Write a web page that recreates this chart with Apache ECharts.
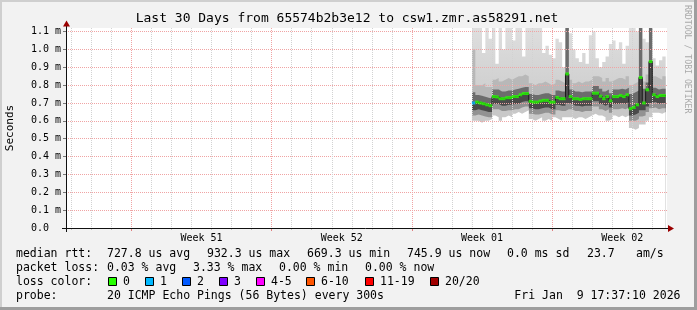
<!DOCTYPE html>
<html><head><meta charset="utf-8">
<script src="https://cdn.jsdelivr.net/npm/echarts@6/dist/echarts.min.js"></script>
<style>
html,body{margin:0;padding:0;background:#f2f2f2;}
#wrap{position:relative;width:697px;height:310px;overflow:hidden;background:#f2f2f2;}
#plotbg{position:absolute;left:66px;top:28px;width:601px;height:200px;background:#ffffff;}
#chart{position:absolute;left:0;top:0;width:697px;height:310px;}
.b{position:absolute;pointer-events:none;}
</style></head><body>
<div id="wrap"><div id="plotbg"></div><div id="chart"></div>
<div class="b" style="left:0;top:0;width:697px;height:2px;background:#cfcfcf"></div>
<div class="b" style="left:0;top:0;width:2px;height:310px;background:#cfcfcf"></div>
<div class="b" style="left:0;bottom:0;width:697px;height:3px;background:#9e9e9e"></div>
<div class="b" style="right:0;top:0;width:3px;height:310px;background:#9e9e9e"></div>
</div>
<script>
// ---------------- data ----------------
const titleText = 'Last 30 Days from 65574b2b3e12 to csw1.zmr.as58291.net';
const yAxisName = 'Seconds';
const creditText = 'RRDTOOL / TOBI OETIKER';
// x axis positions in days since Dec 10 2025 00:00
const xStartDay = 0.73414;   // Dec 10 17:37:10
const xEndDay = 30.73414;    // Jan 9 17:37:10
const dayLines = [1,2,3,4,5,6,7,8,9,10,11,12,13,14,15,16,17,18,19,20,21,22,23,24,25,26,27,28,29,30];
const weekStartDays = [4, 11, 18, 25];
const weekLabelDays = [7.5, 14.5, 21.5, 28.5];
const weekLabels = ['Week 51', 'Week 52', 'Week 01', 'Week 02'];
// y axis in milliseconds
const yMax = 1.12;
const yTicks = [0, 0.1, 0.2, 0.3, 0.4, 0.5, 0.6, 0.7, 0.8, 0.9, 1.0, 1.1];
// data: 4-hour steps starting Dec 31 00:00 (day 21)
const dataStartDay = 21;
const stepDays = 4 / 24;
const median = [
  0.700, 0.705, 0.700, 0.696, 0.690, 0.685,
  0.736, 0.734, 0.724, 0.724, 0.730, 0.730, 0.736, 0.736, 0.746, 0.753, 0.753,
  0.709, 0.705, 0.705, 0.711, 0.715, 0.715, 0.705, 0.705, 0.731, 0.724, 0.724,
  0.863,
  0.736, 0.724, 0.724, 0.720, 0.724, 0.724, 0.724, 0.755, 0.755, 0.738, 0.724, 0.736, 0.712, 0.736, 0.736, 0.742, 0.736, 0.746,
  0.668, 0.675, 0.690, 0.843, 0.700, 0.774, 0.932, 0.746, 0.736, 0.742, 0.742
];
const lossPings = [
  1, 0, 0, 0, 0, 0,
  0, 0, 0, 0, 0, 0, 0, 0, 0, 0, 0,
  0, 0, 0, 0, 0, 0, 0, 0, 0, 0, 0,
  0,
  0, 0, 0, 0, 0, 0, 0, 0, 0, 0, 0, 0, 0, 0, 0, 0, 0, 0,
  0, 0, 0, 0, 0, 0, 0, 0, 0, 0, 0
];
const smokeTop = [
  1.12, 1.12, 1.12, 0.98, 1.12, 1.06,
  1.12, 0.92, 1.12, 1.00, 1.12, 1.12, 1.05, 1.12, 1.12, 0.96, 1.12,
  1.12, 1.12, 1.12, 1.12, 0.98, 1.02, 0.97, 0.95, 1.06, 1.04, 0.90,
  1.12,
  1.09, 1.00, 0.95, 0.93, 0.98, 0.92, 1.08, 1.10, 0.95, 0.90, 0.93, 0.96, 1.03, 1.05, 1.00, 1.04, 0.92, 1.02,
  1.12, 1.12, 1.10, 1.12, 1.06, 1.04, 1.12, 0.95, 0.91, 0.94, 0.96
];
const smokeUpMid = [
  1.00, 0.80, 0.80, 0.81, 0.79, 0.79,
  0.83, 0.84, 0.82, 0.83, 0.84, 0.83, 0.84, 0.85, 0.85, 0.86, 0.85,
  0.81, 0.80, 0.81, 0.81, 0.82, 0.81, 0.80, 0.81, 0.83, 0.82, 0.81,
  1.12,
  0.83, 0.81, 0.82, 0.81, 0.82, 0.82, 0.83, 0.85, 0.85, 0.84, 0.82, 0.84, 0.82, 0.83, 0.84, 0.84, 0.83, 0.85,
  0.80, 0.81, 0.82, 1.12, 0.82, 0.86, 1.12, 0.85, 0.84, 0.83, 0.85
];
const smokeUpDark = [
  0.76, 0.745, 0.74, 0.735, 0.73, 0.725,
  0.775, 0.775, 0.765, 0.765, 0.77, 0.77, 0.775, 0.78, 0.785, 0.79, 0.79,
  0.75, 0.745, 0.745, 0.75, 0.755, 0.755, 0.745, 0.745, 0.77, 0.765, 0.765,
  1.12,
  0.775, 0.765, 0.765, 0.76, 0.765, 0.765, 0.765, 0.795, 0.795, 0.78, 0.765, 0.775, 0.755, 0.775, 0.775, 0.78, 0.775, 0.785,
  0.75, 0.76, 0.77, 1.12, 0.78, 0.815, 1.12, 0.785, 0.775, 0.78, 0.78
];
const smokeLoDark = [
  0.66, 0.665, 0.66, 0.655, 0.65, 0.65,
  0.695, 0.695, 0.685, 0.685, 0.69, 0.69, 0.695, 0.695, 0.705, 0.71, 0.71,
  0.67, 0.665, 0.665, 0.67, 0.675, 0.675, 0.665, 0.665, 0.69, 0.685, 0.685,
  0.70,
  0.695, 0.685, 0.685, 0.68, 0.685, 0.685, 0.685, 0.71, 0.71, 0.695, 0.685, 0.695, 0.675, 0.695, 0.695, 0.70, 0.695, 0.705,
  0.63, 0.635, 0.645, 0.66, 0.66, 0.68, 0.70, 0.705, 0.695, 0.70, 0.70
];
const smokeLoMid = [
  0.63, 0.635, 0.63, 0.625, 0.62, 0.62,
  0.665, 0.665, 0.655, 0.655, 0.66, 0.66, 0.665, 0.665, 0.675, 0.68, 0.68,
  0.64, 0.635, 0.635, 0.64, 0.645, 0.645, 0.635, 0.635, 0.66, 0.655, 0.655,
  0.665,
  0.665, 0.655, 0.655, 0.65, 0.655, 0.655, 0.655, 0.68, 0.68, 0.665, 0.655, 0.665, 0.645, 0.665, 0.665, 0.67, 0.665, 0.675,
  0.60, 0.60, 0.61, 0.625, 0.63, 0.65, 0.67, 0.675, 0.665, 0.67, 0.67
];
const smokeBottom = [
  0.60, 0.60, 0.59, 0.60, 0.60, 0.61,
  0.63, 0.62, 0.60, 0.62, 0.63, 0.62, 0.64, 0.65, 0.64, 0.65, 0.66,
  0.61, 0.60, 0.61, 0.62, 0.60, 0.61, 0.60, 0.62, 0.61, 0.60, 0.62,
  0.62,
  0.62, 0.61, 0.62, 0.62, 0.61, 0.62, 0.63, 0.64, 0.63, 0.63, 0.62, 0.60, 0.61, 0.63, 0.62, 0.63, 0.62, 0.63,
  0.56, 0.55, 0.56, 0.58, 0.58, 0.60, 0.62, 0.645, 0.645, 0.64, 0.65
];
// legend
const statRow1 = ['median rtt:', '727.8 us avg', '932.3 us max', '669.3 us min', '745.9 us now', '0.0 ms sd', '23.7', 'am/s'];
const statRow2 = ['packet loss:', '0.03 % avg', '3.33 % max', '0.00 % min', '0.00 % now'];
const lossRowLabel = 'loss color:';
const lossLevels = [0, 1, 2, 3, 5, 10, 19, 20];
const lossLabels = ['0', '1', '2', '3', '4-5', '6-10', '11-19', '20/20'];
const lossColors = ['#26ff00', '#00b8ff', '#0059ff', '#7e00ff', '#ff00ff', '#ff5500', '#ff0000', '#a10000'];
const probeRow = ['probe:', '20 ICMP Echo Pings (56 Bytes) every 300s'];
const dateText = 'Fri Jan  9 17:37:10 2026';

// ---------------- layout (pixels) ----------------
const FONT = '"DejaVu Sans Mono", monospace';
const G = {left: 66, top: 28, width: 601, height: 200};
const row1X = [16, 107, 207, 307, 407, 507, 587, 636];
const row2X = [16, 107, 193, 279, 365];
const boxX = [108, 145, 182, 219, 256, 306, 365, 430];
const rowY = [254, 268, 282, 296];
const legendFont = 11.5;

// ---------------- build ----------------
const xs = median.map((_, i) => dataStartDay + i * stepDays);
const xEnd = dataStartDay + median.length * stepDays;
function stepData(arr) {
  const d = arr.map((v, i) => [xs[i], v]);
  d.push([xEnd, arr[arr.length - 1]]);
  return d;
}
function lossColor(n) {
  for (let k = 0; k < lossLevels.length; k++) if (n <= lossLevels[k]) return lossColors[k];
  return lossColors[lossColors.length - 1];
}
// nested envelopes: each drawn from the axis up to its level, inner ones painted over outer ones
const layers = [
  {vals: smokeTop, fill: {type: 'linear', x: 0, y: 0, x2: 0, y2: 1,
      colorStops: [{offset: 0, color: '#dedede'}, {offset: 0.3, color: '#d0d0d0'}, {offset: 1, color: '#d0d0d0'}]}},
  {vals: smokeUpMid, fill: '#b8b8b8'},
  {vals: smokeUpDark, fill: '#6c6c6c'},
  {vals: median, fill: '#4a4a4a'},
  {vals: smokeLoDark, fill: '#929292'},
  {vals: smokeLoMid, fill: '#c8c8c8'},
  {vals: smokeBottom, fill: '#ffffff'}
];
const series = layers.map((L, k) => ({
  name: 'smoke' + k,
  type: 'line', step: 'end', data: stepData(L.vals),
  showSymbol: false, symbol: 'none', silent: true, z: 2, z2: k, xAxisIndex: 0, yAxisIndex: 0,
  lineStyle: {width: 0, color: 'rgba(0,0,0,0)'}, areaStyle: {color: L.fill, opacity: 1, origin: 'start'}
}));
series.push({
  type: 'line', step: 'end', data: stepData(median), symbol: 'none', silent: true, z: 4,
  xAxisIndex: 0, yAxisIndex: 0, lineStyle: {width: 1, color: '#1a1a1a'}
});
series.push({
  type: 'scatter', symbol: 'rect', symbolSize: [3.6, 3], silent: true, z: 5,
  xAxisIndex: 0, yAxisIndex: 0,
  data: median.map((v, i) => ({value: [xs[i] + stepDays / 2, v], itemStyle: {color: lossColor(lossPings[i])}}))
});

const graphic = [];
function txt(x, y, s, opt) {
  graphic.push(Object.assign({type: 'text', x: x, y: y, z: 50, silent: true,
    style: Object.assign({text: s, fill: '#000', fontFamily: FONT, fontSize: legendFont,
      align: 'left', verticalAlign: 'middle'}, (opt && opt.style) || {})}, opt && opt.rotation !== undefined ? {rotation: opt.rotation} : {}));
}
txt(347, 19, titleText, {style: {fontSize: 13, align: 'center'}});
txt(687.5, 5, creditText, {style: {fontSize: 8.2, fill: '#a9a9a9'}, rotation: -Math.PI / 2});
statRow1.forEach((s, i) => txt(row1X[i], rowY[0], s));
statRow2.forEach((s, i) => txt(row2X[i], rowY[1], s));
txt(16, rowY[2], lossRowLabel);
lossLabels.forEach((s, i) => {
  graphic.push({type: 'rect', z: 50, silent: true,
    shape: {x: boxX[i] + 0.5, y: rowY[2] - 4.5, width: 8, height: 8},
    style: {fill: lossColors[i], stroke: '#000', lineWidth: 1}});
  txt(boxX[i] + 15, rowY[2], s);
});
txt(16, rowY[3], probeRow[0]);
txt(107, rowY[3], probeRow[1]);
txt(680.5, rowY[3], dateText, {style: {align: 'right'}});
// axis lines + arrows
const yb = G.top + G.height + 0.5, xl = G.left + 0.5;
graphic.push({type: 'line', z: 40, silent: true, shape: {x1: G.left - 4, y1: yb, x2: G.left + G.width + 2, y2: yb}, style: {stroke: '#101010', lineWidth: 1}});
graphic.push({type: 'line', z: 40, silent: true, shape: {x1: xl, y1: yb + 3.5, x2: xl, y2: G.top - 2}, style: {stroke: '#101010', lineWidth: 1}});
graphic.push({type: 'polygon', z: 41, silent: true, shape: {points: [[G.left + G.width + 1, yb - 3.5], [G.left + G.width + 7, yb], [G.left + G.width + 1, yb + 3.5]]}, style: {fill: '#9a0000'}});
graphic.push({type: 'polygon', z: 41, silent: true, shape: {points: [[xl - 3.5, G.top - 1.5], [xl, G.top - 7.5], [xl + 3.5, G.top - 1.5]]}, style: {fill: '#9a0000'}});

const MGRID = '#f0a4a4', GRID = '#d2d2d2';
const option = {
  animation: false,
  backgroundColor: 'transparent',
  grid: {left: G.left, top: G.top, width: G.width, height: G.height, show: false,
    containLabel: false, outerBoundsMode: 'none'},
  xAxis: [
    {type: 'value', min: xStartDay, max: xEndDay, position: 'bottom', offset: 0, z: 3,
      axisLine: {show: false}, axisLabel: {show: false},
      axisTick: {show: true, customValues: dayLines, length: 2, lineStyle: {color: '#c4c4c4'}},
      splitLine: {show: true, lineStyle: {color: GRID, width: 1, type: [1, 1]}}},
    {type: 'value', min: xStartDay, max: xEndDay, position: 'bottom', offset: 0, z: 3,
      axisLine: {show: false},
      axisTick: {show: true, customValues: weekStartDays, length: 3, lineStyle: {color: '#e08080'}},
      axisLabel: {show: true, customValues: weekLabelDays, margin: 5,
        formatter: v => weekLabels[weekLabelDays.indexOf(v)] || '',
        fontFamily: FONT, fontSize: 10, color: '#000'},
      splitLine: {show: true, lineStyle: {color: MGRID, width: 1, type: [1, 1]}}}
  ],
  yAxis: {type: 'value', min: 0, max: yMax, z: 3,
    axisLine: {show: false},
    axisTick: {show: true, customValues: yTicks, length: 3, lineStyle: {color: '#777'}},
    axisLabel: {show: true, customValues: yTicks, margin: 5,
      formatter: v => v === 0 ? '0.0  ' : v.toFixed(1) + ' m',
      fontFamily: FONT, fontSize: 10, color: '#000'},
    splitLine: {show: true, lineStyle: {color: MGRID, width: 1, type: [1, 1]}},
    name: yAxisName, nameLocation: 'middle', nameGap: 50, nameRotate: 90,
    nameTextStyle: {fontFamily: FONT, fontSize: 11, color: '#000'}},
  series: series,
  graphic: graphic
};
const chart = echarts.init(document.getElementById('chart'), null, {renderer: 'canvas'});
chart.setOption(option);
</script>
</body></html>
